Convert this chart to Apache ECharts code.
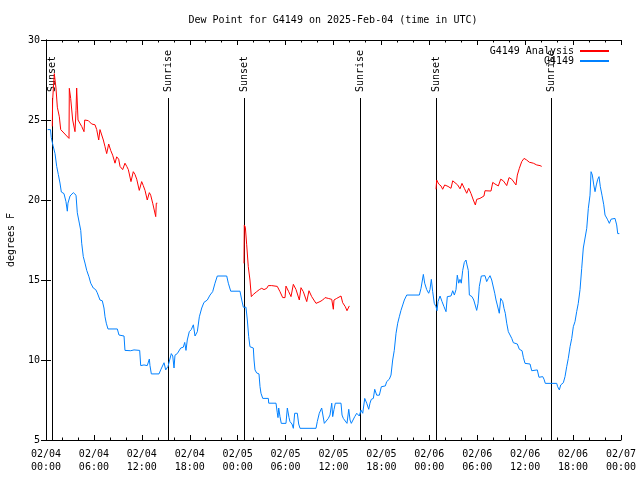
<!DOCTYPE html>
<html>
<head>
<meta charset="utf-8">
<script src="https://cdn.jsdelivr.net/npm/echarts@6/dist/echarts.min.js"></script>
<style>html,body{margin:0;padding:0;background:#fff;}#c{width:640px;height:480px;}</style>
</head>
<body>
<div id="c"></div>
<script>
// Hours since 2025-02-04 00:00 UTC, dew point in degrees F
const titleText = 'Dew Point for G4149 on 2025-Feb-04 (time in UTC)';
const yTitle = 'degrees F';
const xTickDates = ['02/04','02/04','02/04','02/04','02/05','02/05','02/05','02/05','02/06','02/06','02/06','02/06','02/07'];
const xTickTimes = ['00:00','06:00','12:00','18:00','00:00','06:00','12:00','18:00','00:00','06:00','12:00','18:00','00:00'];

const sunEvents = [
  [0.79, 'Sunset'], [15.28, 'Sunrise'], [24.79, 'Sunset'],
  [39.30, 'Sunrise'], [48.84, 'Sunset'], [63.26, 'Sunrise']
];

const g4149 = [
[0.21,24.4],[0.56,24.4],[0.66,23.9],[0.88,23.4],[1.13,22.9],[1.34,22.1],[1.54,21.6],[1.75,21.06],[1.92,20.5],
[2.25,20.4],[2.50,19.9],[2.67,19.3],[2.75,19.8],[3.01,20.25],[3.42,20.46],[3.67,20.56],[3.76,20.3],[3.92,19.2],
[4.17,18.56],[4.35,18.1],[4.47,17.3],[4.67,16.46],[4.88,16.06],[5.10,15.6],[5.38,15.2],[5.60,14.8],[5.92,14.5],
[6.22,14.4],[6.42,14.2],[6.76,13.75],[7.05,13.7],[7.26,13.25],[7.39,12.7],[7.55,12.3],[7.76,11.94],[8.93,11.94],
[9.14,11.56],[9.77,11.5],[9.89,10.6],[10.61,10.58],[11.02,10.63],[11.73,10.6],[11.86,9.65],[12.27,9.69],[12.68,9.65],
[12.94,10.06],[13.02,9.65],[13.19,9.13],[14.15,9.13],[14.36,9.38],[14.78,9.83],[14.99,9.38],[15.11,9.27],[15.28,9.6],
[15.53,9.69],[15.69,10.4],[15.87,10.25],[16.03,9.5],[16.15,10.3],[16.44,10.4],[16.87,10.75],[17.19,10.8],[17.37,11.1],
[17.53,10.6],[17.69,11.25],[17.94,11.77],[18.19,11.9],[18.45,12.2],[18.66,11.5],[18.95,11.77],[19.20,12.7],[19.50,13.25],
[19.78,13.6],[20.20,13.75],[20.54,14.06],[20.87,14.27],[21.16,14.8],[21.45,15.25],[22.63,15.25],[22.83,14.8],[23.13,14.3],
[24.29,14.3],[24.51,13.75],[24.71,13.3],[25.04,13.3],[25.21,12.5],[25.38,11.46],[25.54,10.83],[25.96,10.75],[26.05,10.0],
[26.17,9.38],[26.38,9.19],[26.67,9.13],[26.80,8.33],[26.92,7.92],[27.14,7.6],[27.84,7.6],[27.89,7.3],[28.80,7.3],
[28.96,6.7],[29.05,6.4],[29.14,7.0],[29.30,6.46],[29.46,6.04],[30.05,6.04],[30.22,7.0],[30.43,6.4],[30.55,6.15],
[30.80,6.0],[30.97,5.73],[31.14,6.67],[31.47,6.67],[31.64,6.0],[31.81,5.73],[33.81,5.73],[33.97,6.15],[34.22,6.67],
[34.52,7.0],[34.72,7.0],[34.85,6.04],[35.06,6.15],[35.35,6.35],[35.56,6.56],[35.78,7.3],[35.90,6.46],[36.06,6.9],
[36.23,7.3],[36.94,7.3],[37.07,6.56],[37.23,6.35],[37.48,6.35],[37.69,6.04],[37.91,6.92],[38.07,6.25],[38.23,6.04],
[38.48,6.04],[38.66,6.46],[38.91,6.67],[39.07,6.56],[39.23,6.5],[39.44,6.87],[39.66,6.67],[39.91,7.6],[40.16,7.3],
[40.41,6.92],[40.57,7.3],[40.73,7.54],[40.99,7.6],[41.16,8.17],[41.41,7.8],[41.74,7.8],[41.99,8.33],[42.49,8.38],
[42.66,8.65],[42.99,8.8],[43.20,9.06],[43.41,10.0],[43.61,10.6],[43.83,11.67],[44.04,12.3],[44.24,12.7],[44.45,13.1],
[44.67,13.44],[44.87,13.75],[45.17,14.06],[46.75,14.06],[46.96,14.48],[47.25,15.35],[47.42,14.8],[47.67,14.4],[47.92,14.17],
[48.08,14.4],[48.25,15.04],[48.42,14.27],[48.62,13.54],[48.84,13.33],[48.96,13.08],[49.09,13.65],[49.34,14.0],[49.59,13.65],
[49.84,13.33],[50.09,13.02],[50.25,13.96],[50.71,14.0],[50.93,14.33],[51.13,14.06],[51.34,14.4],[51.50,15.3],[51.68,14.8],
[51.84,15.04],[52.00,14.8],[52.18,15.6],[52.38,16.1],[52.59,16.25],[52.72,15.94],[52.88,15.6],[53.01,14.06],[53.34,13.96],
[53.56,13.75],[53.76,13.65],[53.93,13.1],[54.10,13.54],[54.26,14.6],[54.51,15.25],[54.97,15.27],[55.18,14.9],[55.39,15.1],
[55.60,15.27],[55.81,15.0],[56.01,14.95],[56.19,14.17],[56.35,13.75],[56.51,13.44],[56.76,12.92],[56.94,13.85],[57.19,13.65],
[57.35,13.23],[57.51,12.92],[57.69,12.3],[57.89,11.77],[58.10,11.67],[58.32,11.35],[58.52,11.08],[58.73,11.0],[59.02,11.0],
[59.27,10.67],[59.61,10.58],[59.77,10.17],[59.98,9.79],[60.61,9.75],[60.82,9.33],[61.52,9.38],[61.73,8.92],[61.95,8.85],
[62.20,8.96],[62.36,8.8],[62.52,8.54],[63.95,8.54],[64.07,8.33],[64.28,8.13],[64.45,8.44],[64.78,8.58],[64.99,8.96],
[65.20,9.58],[65.40,10.1],[65.62,10.83],[65.83,11.35],[66.03,12.08],[66.24,12.4],[66.45,13.02],[66.65,13.54],[66.87,14.4],
[67.08,15.73],[67.28,17.0],[67.49,17.1],[67.71,18.23],[67.91,19.48],[68.12,20.3],[68.25,21.77],[68.41,21.56],[68.59,20.94],
[68.75,20.52],[68.91,20.94],[69.09,21.3],[69.25,21.46],[69.41,20.83],[69.62,20.3],[69.84,19.7],[70.00,19.06],[70.29,18.8],
[70.54,18.54],[70.75,18.8],[71.25,18.85],[71.46,18.44],[71.59,17.9],[71.79,17.9]
];

const analysisNight1 = [
[0.79,24.6],[0.83,26.25],[0.96,26.25],[1.04,27.9],[1.13,27.9],[1.25,27.0],[1.42,25.8],[1.67,25.2],[1.84,24.4],
[2.88,23.85],[2.92,26.98],[3.09,26.35],[3.34,25.0],[3.63,24.27],[3.76,25.6],[3.84,27.0],[3.97,27.0],[4.01,25.0],
[4.47,24.6],[4.76,24.27],[4.85,25.0],[5.30,24.96],[5.72,24.75],[6.14,24.7],[6.35,24.4],[6.60,23.75],[6.76,24.4],
[6.97,24.3],[7.18,23.75],[7.39,23.33],[7.60,22.9],[7.85,23.5],[8.10,23.1],[8.35,22.8],[8.64,22.3],[8.85,22.7],
[9.10,22.55],[9.27,22.1],[9.60,21.9],[9.89,22.3],[10.11,22.1],[10.31,21.9],[10.64,21.15],[10.93,21.77],[11.14,21.6],
[11.36,21.3],[11.68,20.6],[11.98,21.15],[12.18,20.9],[12.40,20.6],[12.68,20.0],[12.94,20.46],[13.11,20.3],[13.36,19.8],
[13.74,18.96],[13.81,19.8],[13.94,19.8]
];
const analysisNight2 = [
[24.79,16.04],[24.83,18.44],[24.96,18.3],[25.13,17.2],[25.33,15.83],[25.54,15.0],[25.71,13.96],[25.96,14.1],[26.38,14.27],
[26.71,14.4],[27.01,14.48],[27.30,14.4],[27.64,14.48],[27.84,14.65],[28.26,14.65],[28.96,14.6],[29.30,14.27],[29.64,13.9],
[29.93,13.9],[30.05,14.62],[30.39,14.27],[30.68,13.96],[30.97,14.73],[31.31,14.4],[31.72,13.75],[31.93,14.52],[32.22,14.27],
[32.65,13.65],[32.93,14.33],[33.27,13.96],[33.81,13.54],[34.31,13.65],[34.65,13.75],[34.94,13.9],[35.35,13.85],[35.78,13.79],
[35.98,13.17],[36.06,13.75],[36.40,13.85],[36.94,14.0],[37.15,13.58],[37.48,13.33],[37.69,13.08],[37.98,13.38]
];
const analysisNight3 = [
[48.84,20.67],[48.92,21.25],[49.17,21.0],[49.46,20.88],[49.67,20.67],[49.92,20.94],[50.34,20.85],[50.71,20.73],[50.93,21.2],
[51.18,21.1],[51.55,20.94],[51.84,20.7],[52.09,21.04],[52.38,20.73],[52.68,20.42],[52.93,20.73],[53.22,20.4],[53.51,20.0],
[53.76,19.69],[53.93,20.04],[54.34,20.1],[54.84,20.25],[54.97,20.58],[55.72,20.56],[55.94,21.1],[56.22,21.0],[56.64,20.88],
[56.94,21.3],[57.26,21.2],[57.69,20.9],[57.98,21.4],[58.32,21.3],[58.85,20.94],[59.02,21.56],[59.27,21.98],[59.57,22.4],
[59.86,22.6],[60.19,22.5],[60.52,22.36],[61.02,22.3],[61.45,22.19],[61.86,22.15],[62.07,22.1]
];

const FONT = 'DejaVu Sans Mono';
const RED = '#ff0000';
const BLUE = '#0080ff';
const LINE_TOP = 26.375;

const chart = echarts.init(document.getElementById('c'), null, {renderer: 'canvas'});

function xLabel(v) {
  const i = Math.round(v / 6);
  return xTickDates[i] + '\n' + xTickTimes[i];
}

const axisCommon = {
  axisLine: {show: true, lineStyle: {color: '#000', width: 1}},
  axisTick: {show: true, inside: true, length: 5, lineStyle: {color: '#000'}},
  splitLine: {show: false}
};

const redSeries = [analysisNight1, analysisNight2, analysisNight3].map(d => ({
  name: 'G4149 Analysis', type: 'line', data: d, symbol: 'none',
  lineStyle: {color: RED, width: 1}, itemStyle: {color: RED}, z: 4, animation: false
}));

chart.setOption({
  animation: false,
  title: {
    text: titleText, left: 328, top: 10, textAlign: 'center',
    textStyle: {fontFamily: FONT, fontSize: 10, fontWeight: 'normal', color: '#000'}
  },
  legend: {
    orient: 'vertical', align: 'right', right: 25, top: 41,
    itemWidth: 29, itemHeight: 12, itemGap: 0,
    data: ['G4149 Analysis', 'G4149'],
    itemStyle: {opacity: 0, color: 'rgba(0,0,0,0)', borderWidth: 0},
    textStyle: {fontFamily: FONT, fontSize: 10, color: '#000', padding: [0, 1, 0, 0]}
  },
  grid: {left: 46, right: 19, top: 40, bottom: 40, containLabel: false, outerBoundsMode: 'none'},
  xAxis: [
    Object.assign({}, axisCommon, {
      type: 'value', min: 0, max: 72, interval: 6,
      minorTick: {show: true, splitNumber: 3, length: 2.5, lineStyle: {color: '#000'}},
      axisLabel: {formatter: xLabel, fontFamily: FONT, fontSize: 10, color: '#000', lineHeight: 13, margin: 8}
    }),
    Object.assign({}, axisCommon, {
      type: 'value', position: 'top', min: 0, max: 72, interval: 6,
      minorTick: {show: true, splitNumber: 3, length: 2.5, lineStyle: {color: '#000'}},
      axisLabel: {show: false}
    })
  ],
  yAxis: [
    Object.assign({}, axisCommon, {
      type: 'value', min: 5, max: 30, interval: 5,
      name: yTitle, nameLocation: 'middle', nameGap: 30, nameRotate: 90,
      nameTextStyle: {fontFamily: FONT, fontSize: 10, color: '#000'},
      axisLabel: {fontFamily: FONT, fontSize: 10, color: '#000', margin: 6}
    }),
    Object.assign({}, axisCommon, {
      type: 'value', position: 'right', min: 5, max: 30, interval: 5,
      axisLabel: {show: false}
    })
  ],
  series: [
    {
      type: 'custom', name: 'sun', data: sunEvents, z: 2, silent: true,
      renderItem: function (params, api) {
        const t = api.value(0);
        const top = api.coord([t, LINE_TOP]);
        const bot = api.coord([t, 5]);
        const x = Math.round(top[0]) + 0.5;
        return {
          type: 'group',
          children: [
            {type: 'line', shape: {x1: x, y1: top[1], x2: x, y2: bot[1]}, style: {stroke: '#000', lineWidth: 1}},
            {type: 'text', x: x, y: top[1] - 6, rotation: Math.PI / 2,
             style: {text: sunEvents[params.dataIndex][1], font: '10px "' + FONT + '"', fill: '#000',
                     align: 'left', verticalAlign: 'middle'}}
          ]
        };
      }
    }
  ].concat(redSeries).concat([
    {
      name: 'G4149', type: 'line', data: g4149, symbol: 'none',
      lineStyle: {color: BLUE, width: 1}, itemStyle: {color: BLUE}, z: 3
    }
  ])
});
</script>
</body>
</html>
